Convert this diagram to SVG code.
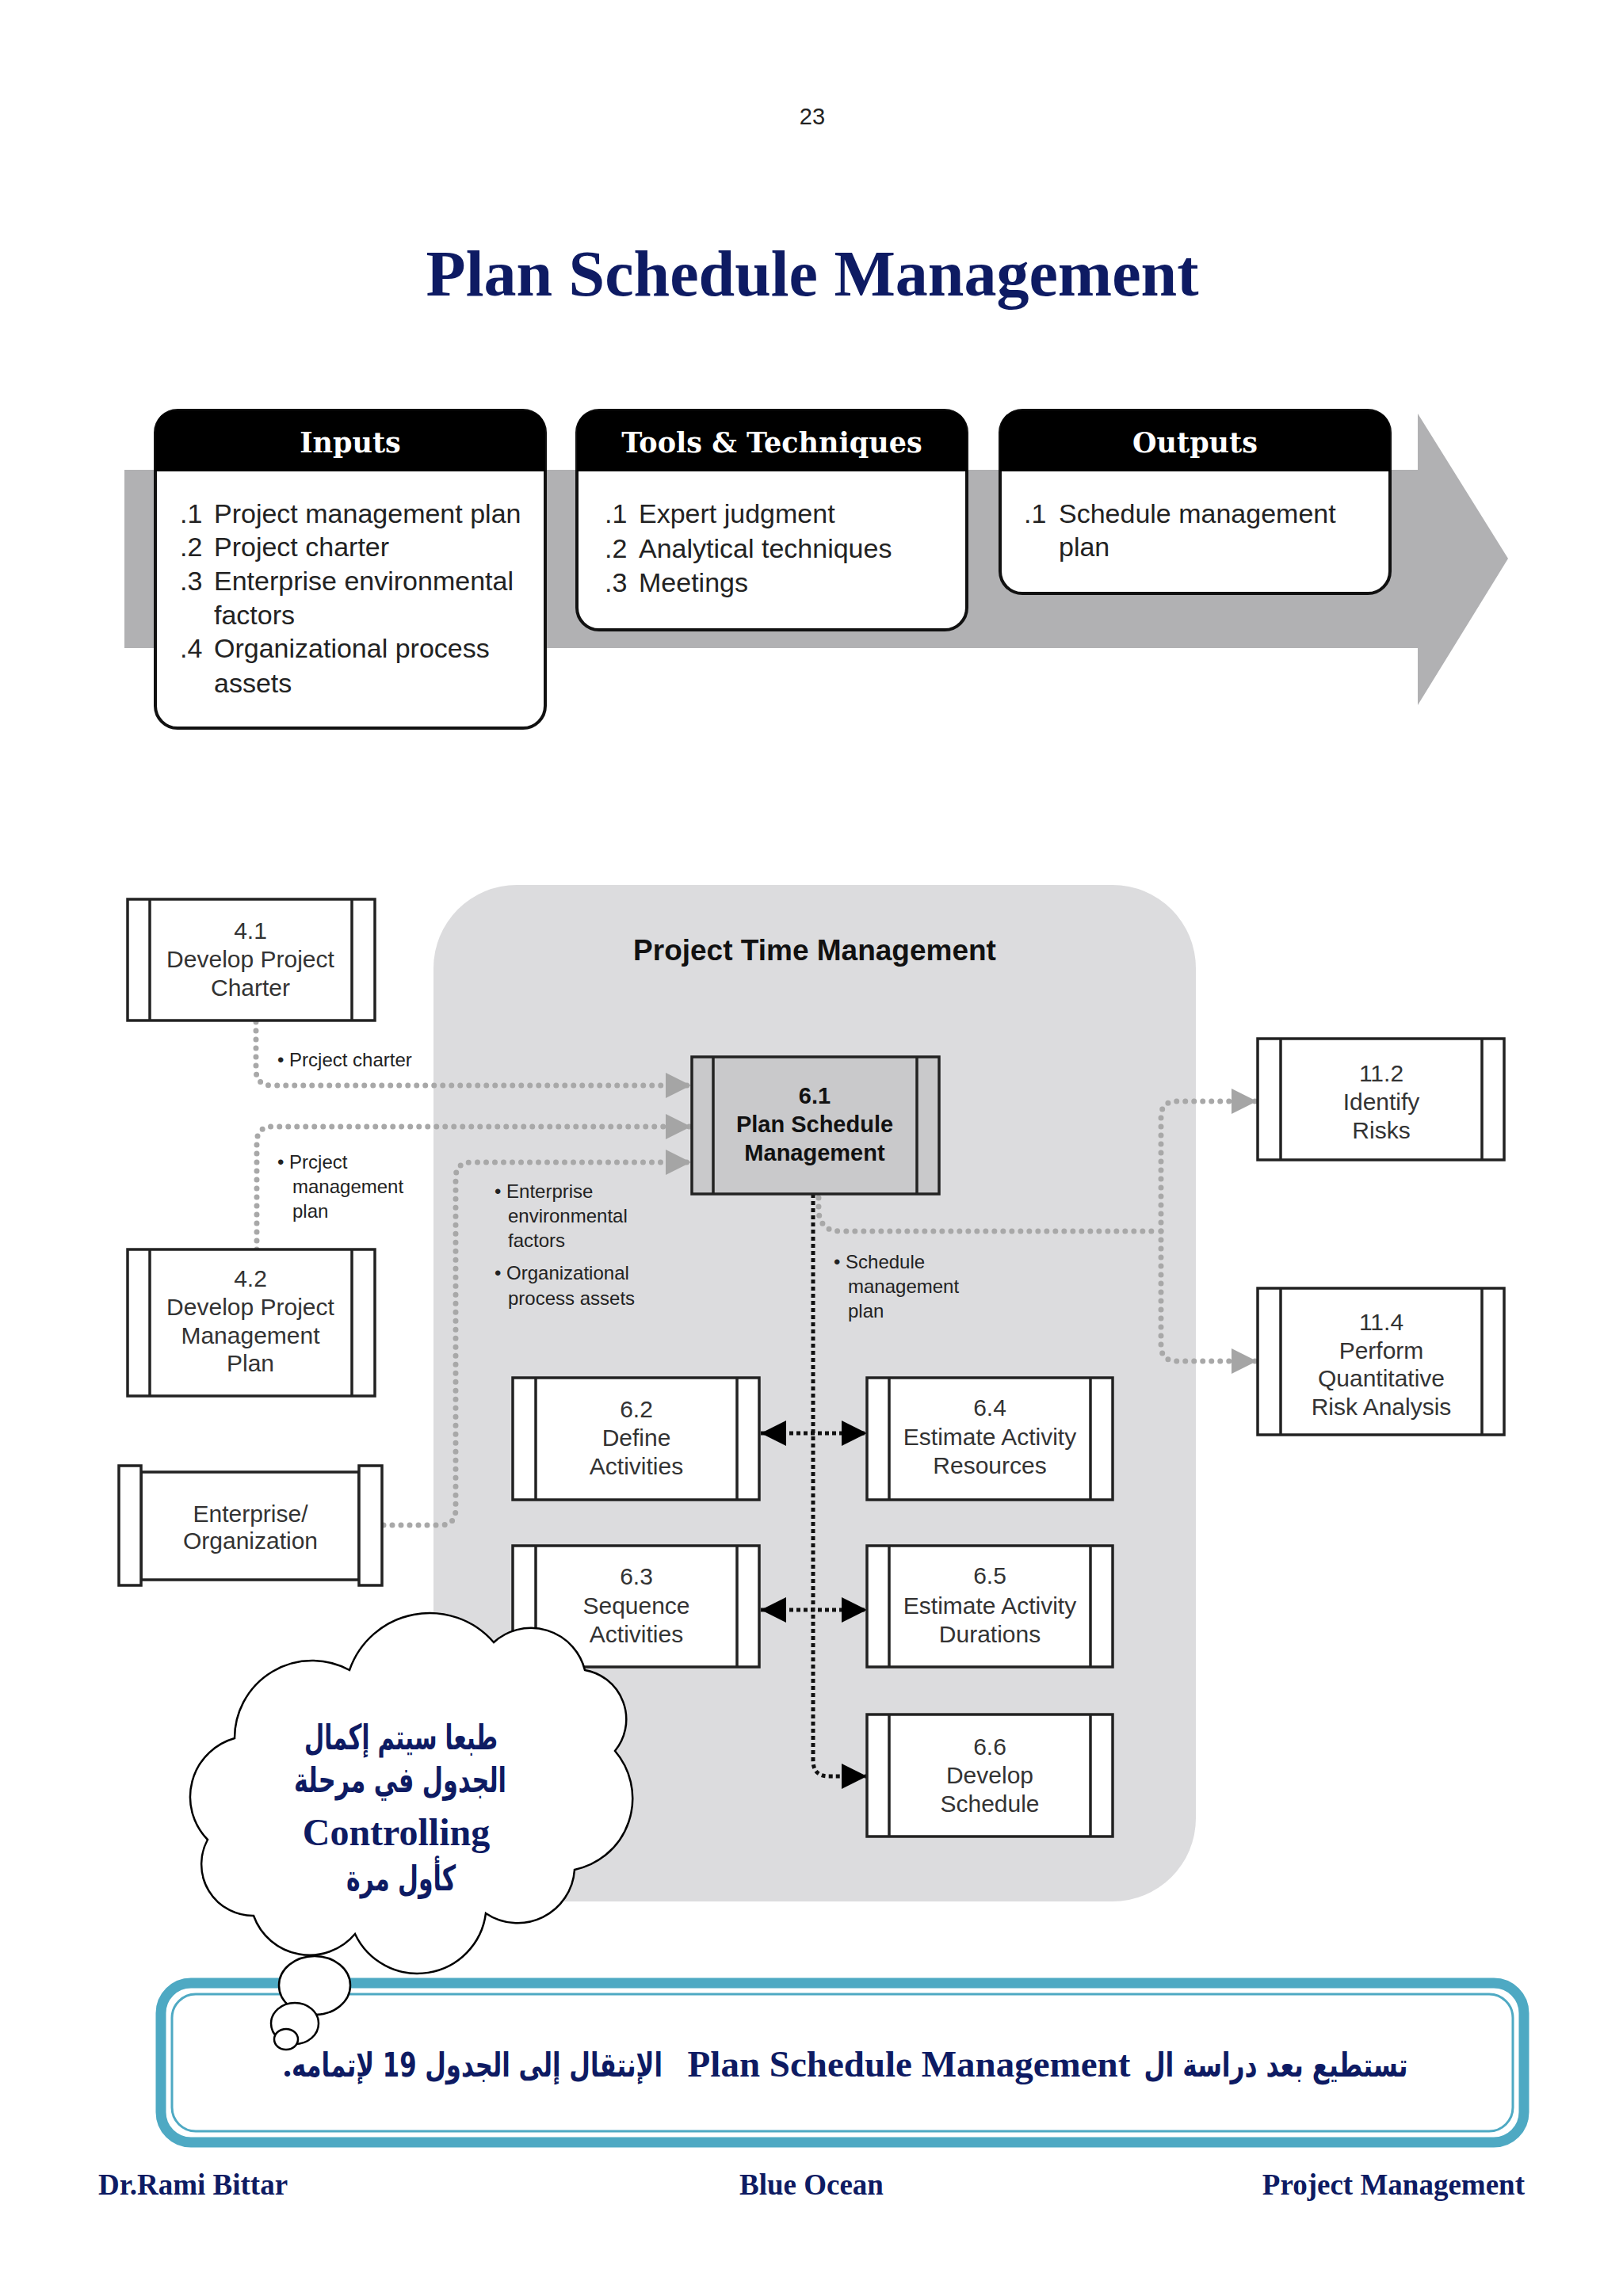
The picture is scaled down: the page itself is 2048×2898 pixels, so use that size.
<svg xmlns="http://www.w3.org/2000/svg" width="2048" height="2898" viewBox="0 0 2048 2898">
<defs>
<style>
.pg{font-family:"Liberation Sans",Arial,sans-serif;font-size:29px;fill:#222}
.title{font-family:"Liberation Serif","Times New Roman",serif;font-weight:bold;fill:#0e1b63}
.hdr{font-family:"DejaVu Serif",serif;font-weight:bold;font-size:35px;fill:#fff}
.item{font-family:"Liberation Sans",Arial,sans-serif;font-size:34px;fill:#222}
.itbox{fill:#fff;stroke:#111;stroke-width:4}
.pbox{fill:#fff;stroke:#222;stroke-width:3.5}
.pline{stroke:#222;stroke-width:3.5}
.bt{font-family:"Liberation Sans",Arial,sans-serif;font-size:30px;fill:#333;text-anchor:middle}
.bb{font-family:"Liberation Sans",Arial,sans-serif;font-size:29px;fill:#111;text-anchor:middle;font-weight:bold}
.lbl{font-family:"Liberation Sans",Arial,sans-serif;font-size:24px;fill:#222}
.gdot{fill:none;stroke:#a8a8a8;stroke-width:7;stroke-linecap:round;stroke-dasharray:0 11}
.kdot{fill:none;stroke:#111;stroke-width:5;stroke-dasharray:5 4}
.navy{font-family:"Liberation Serif","Times New Roman","DejaVu Sans",serif;font-weight:bold;fill:#0e1b63}
.ar{font-family:"DejaVu Sans",sans-serif;font-weight:bold;fill:#0e1b63;text-anchor:middle}
</style>
<marker id="ga" viewBox="0 0 32 32" refX="32" refY="16" markerWidth="32" markerHeight="32" markerUnits="userSpaceOnUse" orient="auto"><path d="M0,0 L32,16 L0,32 Z" fill="#a5a5a5"/></marker>
<marker id="ka" viewBox="0 0 32 32" refX="32" refY="16" markerWidth="32" markerHeight="32" markerUnits="userSpaceOnUse" orient="auto-start-reverse"><path d="M0,0 L32,16 L0,32 Z" fill="#000"/></marker>
</defs>
<rect width="2048" height="2898" fill="#fff"/>
<text class="pg" x="1025" y="157" text-anchor="middle">23</text>
<text class="title" x="1025" y="373" font-size="82" text-anchor="middle">Plan Schedule Management</text>

<g id="itto">
<polygon points="157,593 1789,593 1789,522 1903,705 1789,890 1789,818 157,818" fill="#b1b1b3"/>
<g id="inputs">
<rect class="itbox" x="196" y="518" width="492" height="401" rx="28"/>
<path d="M196,595 V546 Q196,518 224,518 H660 Q688,518 688,546 V595 Z" fill="#000"/>
<text class="hdr" x="442" y="571" text-anchor="middle">Inputs</text>
<text class="item" x="227" y="660">.1</text><text class="item" x="270" y="660">Project management plan</text>
<text class="item" x="227" y="702">.2</text><text class="item" x="270" y="702">Project charter</text>
<text class="item" x="227" y="745">.3</text><text class="item" x="270" y="745">Enterprise environmental</text>
<text class="item" x="270" y="788">factors</text>
<text class="item" x="227" y="830">.4</text><text class="item" x="270" y="830">Organizational process</text>
<text class="item" x="270" y="874">assets</text>
</g>
<g id="tools">
<rect class="itbox" x="728" y="518" width="492" height="277" rx="28"/>
<path d="M728,595 V546 Q728,518 756,518 H1192 Q1220,518 1220,546 V595 Z" fill="#000"/>
<text class="hdr" x="974" y="571" text-anchor="middle">Tools &amp; Techniques</text>
<text class="item" x="763" y="660">.1</text><text class="item" x="806" y="660">Expert judgment</text>
<text class="item" x="763" y="704">.2</text><text class="item" x="806" y="704">Analytical techniques</text>
<text class="item" x="763" y="747">.3</text><text class="item" x="806" y="747">Meetings</text>
</g>
<g id="outputs">
<rect class="itbox" x="1262" y="518" width="492" height="231" rx="28"/>
<path d="M1262,595 V546 Q1262,518 1290,518 H1726 Q1754,518 1754,546 V595 Z" fill="#000"/>
<text class="hdr" x="1508" y="571" text-anchor="middle">Outputs</text>
<text class="item" x="1292" y="660">.1</text><text class="item" x="1336" y="660">Schedule management</text>
<text class="item" x="1336" y="702">plan</text>
</g>
</g>

<g id="region">
<rect x="547" y="1117" width="962" height="1283" rx="105" fill="#dcdcde"/>
<text x="1028" y="1212" font-family="Liberation Sans, Arial, sans-serif" font-weight="bold" font-size="37" fill="#111" text-anchor="middle">Project Time Management</text>
</g>

<g id="connectors">
<path class="gdot" d="M323,1290 V1350 Q323,1370 343,1370 H872" marker-end="url(#ga)"/>
<path class="gdot" d="M324,1577 V1442 Q324,1422 344,1422 H872" marker-end="url(#ga)"/>
<path class="gdot" d="M484,1925 H555 Q575,1925 575,1905 V1487 Q575,1467 595,1467 H872" marker-end="url(#ga)"/>
<path class="gdot" d="M1033,1512 V1530 Q1036,1554 1060,1554 H1458"/>
<path class="gdot" d="M1465,1554 V1410 Q1465,1390 1485,1390 H1586" marker-end="url(#ga)"/>
<path class="gdot" d="M1465,1554 V1698 Q1465,1718 1485,1718 H1586" marker-end="url(#ga)"/>
<path class="kdot" d="M1026,1507 V2222 Q1026,2242 1046,2242 H1094" marker-end="url(#ka)"/>
<path class="kdot" d="M960,1809 H1094" marker-start="url(#ka)" marker-end="url(#ka)"/>
<path class="kdot" d="M960,2032 H1094" marker-start="url(#ka)" marker-end="url(#ka)"/>
<text class="lbl" x="350" y="1346">• Prcject charter</text>
<text class="lbl" x="350" y="1475">• Prcject</text>
<text class="lbl" x="369" y="1506">management</text>
<text class="lbl" x="369" y="1537">plan</text>
<text class="lbl" x="624" y="1512">• Enterprise</text>
<text class="lbl" x="641" y="1543">environmental</text>
<text class="lbl" x="641" y="1574">factors</text>
<text class="lbl" x="624" y="1615">• Organizational</text>
<text class="lbl" x="641" y="1647">process assets</text>
<text class="lbl" x="1052" y="1601">• Schedule</text>
<text class="lbl" x="1070" y="1632">management</text>
<text class="lbl" x="1070" y="1663">plan</text>
</g>

<g id="n41">
<rect class="pbox" x="161" y="1135" width="312" height="153"/>
<line class="pline" x1="189" y1="1135" x2="189" y2="1288"/><line class="pline" x1="444" y1="1135" x2="444" y2="1288"/>
<text class="bt" x="316" y="1185">4.1</text><text class="bt" x="316" y="1221">Develop Project</text><text class="bt" x="316" y="1257">Charter</text>
</g>
<g id="n42">
<rect class="pbox" x="161" y="1577" width="312" height="185"/>
<line class="pline" x1="189" y1="1577" x2="189" y2="1762"/><line class="pline" x1="444" y1="1577" x2="444" y2="1762"/>
<text class="bt" x="316" y="1624">4.2</text><text class="bt" x="316" y="1660">Develop Project</text><text class="bt" x="316" y="1696">Management</text><text class="bt" x="316" y="1731">Plan</text>
</g>
<g id="nEnt">
<rect class="pbox" x="178" y="1858" width="275" height="136"/>
<rect class="pbox" x="150" y="1850" width="28" height="151"/>
<rect class="pbox" x="453" y="1850" width="29" height="151"/>
<text class="bt" x="316" y="1921">Enterprise/</text><text class="bt" x="316" y="1955">Organization</text>
</g>
<g id="n61">
<rect class="pbox" x="873" y="1334" width="312" height="173" style="fill:#c9c9cb"/>
<line class="pline" x1="900" y1="1334" x2="900" y2="1507"/><line class="pline" x1="1157" y1="1334" x2="1157" y2="1507"/>
<text class="bb" x="1028" y="1393">6.1</text><text class="bb" x="1028" y="1429">Plan Schedule</text><text class="bb" x="1028" y="1465">Management</text>
</g>
<g id="n62">
<rect class="pbox" x="647" y="1739" width="311" height="154"/>
<line class="pline" x1="676" y1="1739" x2="676" y2="1893"/><line class="pline" x1="930" y1="1739" x2="930" y2="1893"/>
<text class="bt" x="803" y="1789">6.2</text><text class="bt" x="803" y="1825">Define</text><text class="bt" x="803" y="1861">Activities</text>
</g>
<g id="n63">
<rect class="pbox" x="647" y="1951" width="311" height="153"/>
<line class="pline" x1="676" y1="1951" x2="676" y2="2104"/><line class="pline" x1="930" y1="1951" x2="930" y2="2104"/>
<text class="bt" x="803" y="2000">6.3</text><text class="bt" x="803" y="2037">Sequence</text><text class="bt" x="803" y="2073">Activities</text>
</g>
<g id="n64">
<rect class="pbox" x="1094" y="1739" width="310" height="154"/>
<line class="pline" x1="1122" y1="1739" x2="1122" y2="1893"/><line class="pline" x1="1376" y1="1739" x2="1376" y2="1893"/>
<text class="bt" x="1249" y="1787">6.4</text><text class="bt" x="1249" y="1824">Estimate Activity</text><text class="bt" x="1249" y="1860">Resources</text>
</g>
<g id="n65">
<rect class="pbox" x="1094" y="1951" width="310" height="153"/>
<line class="pline" x1="1122" y1="1951" x2="1122" y2="2104"/><line class="pline" x1="1376" y1="1951" x2="1376" y2="2104"/>
<text class="bt" x="1249" y="1999">6.5</text><text class="bt" x="1249" y="2037">Estimate Activity</text><text class="bt" x="1249" y="2073">Durations</text>
</g>
<g id="n66">
<rect class="pbox" x="1094" y="2164" width="310" height="154"/>
<line class="pline" x1="1122" y1="2164" x2="1122" y2="2318"/><line class="pline" x1="1376" y1="2164" x2="1376" y2="2318"/>
<text class="bt" x="1249" y="2215">6.6</text><text class="bt" x="1249" y="2251">Develop</text><text class="bt" x="1249" y="2287">Schedule</text>
</g>
<g id="n112">
<rect class="pbox" x="1587" y="1311" width="311" height="153"/>
<line class="pline" x1="1616" y1="1311" x2="1616" y2="1464"/><line class="pline" x1="1870" y1="1311" x2="1870" y2="1464"/>
<text class="bt" x="1743" y="1365">11.2</text><text class="bt" x="1743" y="1401">Identify</text><text class="bt" x="1743" y="1437">Risks</text>
</g>
<g id="n114">
<rect class="pbox" x="1587" y="1626" width="311" height="185"/>
<line class="pline" x1="1616" y1="1626" x2="1616" y2="1811"/><line class="pline" x1="1870" y1="1626" x2="1870" y2="1811"/>
<text class="bt" x="1743" y="1679">11.4</text><text class="bt" x="1743" y="1715">Perform</text><text class="bt" x="1743" y="1750">Quantitative</text><text class="bt" x="1743" y="1786">Risk Analysis</text>
</g>

<g id="notebox">
<rect x="203" y="2503" width="1720" height="201" rx="38" fill="#fff" stroke="#4ea9c3" stroke-width="13"/>
<rect x="217" y="2517" width="1692" height="173" rx="30" fill="none" stroke="#4ea9c3" stroke-width="3"/>
<text class="ar" x="1610" y="2621" font-size="42" textLength="333" lengthAdjust="spacingAndGlyphs">تستطيع بعد دراسة ال</text>
<text class="navy" x="1147" y="2621" font-size="47" text-anchor="middle">Plan Schedule Management</text>
<text class="ar" x="602" y="2621" font-size="42" textLength="468" lengthAdjust="spacingAndGlyphs">الإنتقال إلى الجدول 19 لإتمامه</text>
<text class="navy" x="357" y="2621" font-size="44">.</text>
</g>

<g id="cloud">
<path d="M296,2194 A98,98 0 0 1 441,2108 A107,107 0 0 1 623,2073 A70,70 0 0 1 738,2108 A63,63 0 0 1 776,2210 A92,92 0 0 1 725,2360 A72,72 0 0 1 613,2415 A87,87 0 0 1 448,2441 A75,75 0 0 1 320,2418 A65,65 0 0 1 262,2322 A77,77 0 0 1 296,2194 Z" fill="#fff" stroke="#000" stroke-width="2.5"/>
<text class="ar" x="506" y="2208" font-size="44" textLength="244" lengthAdjust="spacingAndGlyphs">طبعا سيتم إكمال</text>
<text class="ar" x="505" y="2262" font-size="44" textLength="268" lengthAdjust="spacingAndGlyphs">الجدول في مرحلة</text>
<text class="navy" x="500" y="2329" font-size="48" text-anchor="middle">Controlling</text>
<text class="ar" x="506" y="2386" font-size="44" textLength="138" lengthAdjust="spacingAndGlyphs">كأول مرة</text>
<ellipse cx="397" cy="2506" rx="45" ry="37" fill="#fff" stroke="#000" stroke-width="2.5"/>
<ellipse cx="372" cy="2554" rx="30" ry="26" fill="#fff" stroke="#000" stroke-width="2.5"/>
<ellipse cx="361" cy="2574" rx="15" ry="13" fill="#fff" stroke="#000" stroke-width="2.5"/>
</g>

<g id="footer">
<text class="title" x="124" y="2770" font-size="37">Dr.Rami Bittar</text>
<text class="title" x="1024" y="2770" font-size="37" text-anchor="middle">Blue Ocean</text>
<text class="title" x="1924" y="2770" font-size="37" text-anchor="end">Project Management</text>
</g>
</svg>
